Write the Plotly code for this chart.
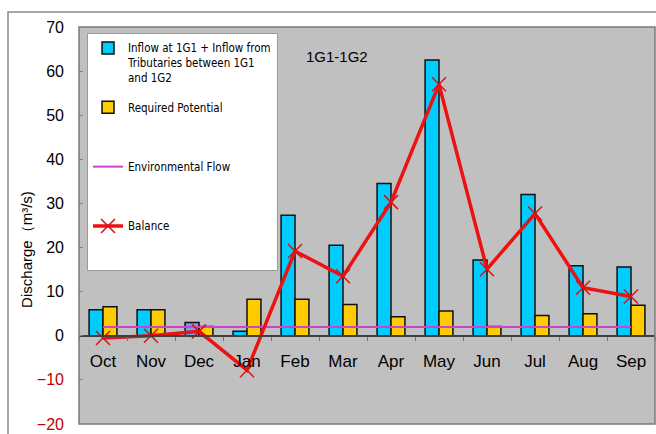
import plotly.graph_objects as go

months = ["Oct", "Nov", "Dec", "Jan", "Feb", "Mar", "Apr", "May", "Jun", "Jul", "Aug", "Sep"]
inflow = [5.9, 5.9, 3.0, 1.0, 27.3, 20.5, 34.5, 62.5, 17.2, 32.0, 15.9, 15.6]
required = [6.6, 5.9, 2.1, 8.3, 8.3, 7.1, 4.3, 5.6, 2.1, 4.6, 5.0, 6.9]
env_flow = [2.0, 2.0, 2.0, 2.0, 2.0, 2.0, 2.0, 2.0, 2.0, 2.0, 2.0, 2.0]
balance = [-0.5, 0.0, 1.0, -7.8, 19.2, 13.5, 30.3, 57.0, 15.1, 27.7, 10.9, 8.9]
y_ticks = [-20, -10, 0, 10, 20, 30, 40, 50, 60, 70]

FONT = "Liberation Sans, Arial, sans-serif"
LEG_FONT = "DejaVu Sans Condensed, Liberation Sans, sans-serif"

inflow_colors = ["#00ccff"] * 12
inflow_colors[2] = "#6fa0ec"

tick_text = [
    (f"<span style='color:#c00000'>\u2212{abs(v)}</span>" if v < 0 else str(v))
    for v in y_ticks
]

fig = go.Figure()
fig.add_trace(go.Bar(
    x=months, y=inflow, name="Inflow at 1G1 + Inflow from<br>Tributaries between 1G1<br>and 1G2",
    marker=dict(color=inflow_colors, line=dict(color="#101010", width=1.5)),
    legendgroup="a",
))
fig.add_trace(go.Bar(
    x=months, y=required, name="Required Potential<br> <br> ",
    marker=dict(color="#ffcc00", line=dict(color="#101010", width=1.5)),
    legendgroup="b",
))
fig.add_trace(go.Scatter(
    x=months, y=env_flow, name="Environmental Flow<br> <br> ", mode="lines",
    line=dict(color="#cc44cc", width=2),
    legendgroup="c",
))
fig.add_trace(go.Scatter(
    x=months, y=balance, name="Balance<br> <br> ", mode="lines+markers",
    line=dict(color="#ee1111", width=3.5),
    marker=dict(symbol="x-thin", size=14, color="#dd1111",
                line=dict(color="#dd1111", width=1.5)),
    legendgroup="d",
))

fig.update_layout(
    width=656, height=434,
    margin=dict(l=79, r=1, t=27, b=8),
    paper_bgcolor="white",
    plot_bgcolor="#c0c0c0",
    font=dict(family=FONT, color="black"),
    barmode="group",
    bargap=0.42,
    bargroupgap=0.0,
    showlegend=True,
    legend=dict(
        x=0.0139, y=0.985, xanchor="left", yanchor="top",
        bgcolor="white", bordercolor="#9a9a9a", borderwidth=1,
        font=dict(size=11.5, family=LEG_FONT),
        tracegroupgap=11.5, itemwidth=30, valign="top",
        traceorder="grouped",
    ),
    xaxis=dict(
        type="category", range=[-0.5, 11.5],
        anchor="free", position=(426 - 338) / 399,
        showline=True, linecolor="#404040", linewidth=1.5,
        ticks="outside", tickson="boundaries", ticklen=4, tickcolor="#707070",
        tickfont=dict(size=17),
        ticklabelstandoff=9,
        showgrid=False, zeroline=False,
    ),
    yaxis=dict(
        range=[-20, 70],
        tickvals=y_ticks, ticktext=tick_text,
        ticks="inside", ticklen=4, tickcolor="#808080",
        tickfont=dict(size=16),
        ticklabelstandoff=14, ticklabeloverflow="allow",
        showgrid=False, zeroline=False, showline=False,
    ),
    shapes=[
        dict(type="rect", xref="paper", yref="paper",
             x0=(8 - 79) / 576, x1=1.01, y0=-0.05, y1=(426 - 12) / 399,
             line=dict(color="#8a8a8a", width=1.5), layer="below"),
        dict(type="rect", xref="paper", yref="paper",
             x0=0, x1=1, y0=0, y1=1,
             line=dict(color="#7a7a7a", width=1.5), layer="above"),
    ],
    annotations=[
        dict(text="1G1-1G2", xref="paper", yref="paper",
             x=(337 - 79) / 576, y=(426 - 57) / 399,
             xanchor="center", yanchor="middle",
             showarrow=False, font=dict(size=15)),
        dict(text="Discharge（m³/s)", xref="paper", yref="paper",
             x=(27 - 79) / 576, y=(426 - 251) / 399, textangle=-90,
             xanchor="center", yanchor="middle",
             showarrow=False, font=dict(size=15)),
    ],
)

fig.write_html("out.html", post_script="document.body.style.margin='0';",
               config={"displayModeBar": False})
